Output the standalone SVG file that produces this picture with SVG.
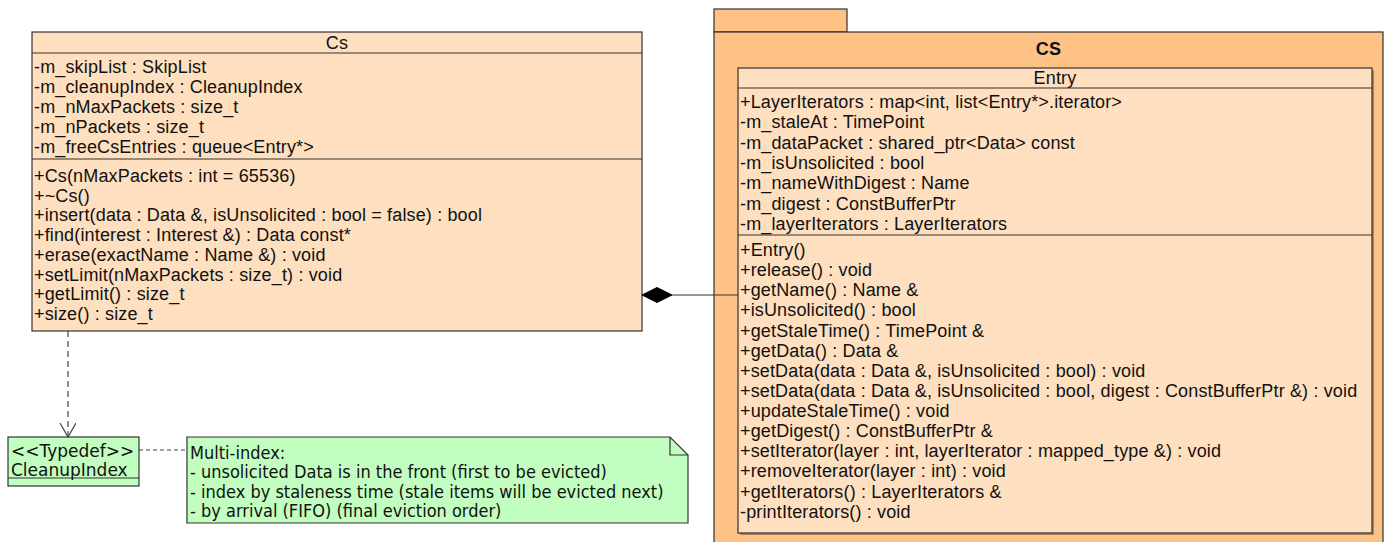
<svg xmlns="http://www.w3.org/2000/svg" width="1385" height="542" viewBox="0 0 1385 542">
<defs>
<style>
.cls{fill:#FEDFBF;stroke:#333;stroke-width:1.2}
.pkg{fill:#FEC286;stroke:#333;stroke-width:1.2}
.grn{fill:#C2FEC0;stroke:#333;stroke-width:1.2}
.sep{stroke:#333;stroke-width:1.2}
.t{font-family:"Liberation Sans",Arial,sans-serif;font-size:18px;letter-spacing:0.15px;fill:#111}
.c{text-anchor:middle}
.b{font-weight:bold}
.d{font-family:"DejaVu Sans",sans-serif;font-size:17px;fill:#111}
.n{font-family:"DejaVu Sans Condensed","DejaVu Sans",sans-serif;font-stretch:condensed;font-size:18px;fill:#111}
.dash{fill:none;stroke:#444;stroke-width:1.2;stroke-dasharray:6 4}
.dash2{fill:none;stroke:#444;stroke-width:1.2;stroke-dasharray:4 3}
</style>
<marker id="open" markerWidth="20" markerHeight="20" refX="14" refY="8" orient="auto" markerUnits="userSpaceOnUse">
<path d="M0,0 L14,8 L0,16" fill="none" stroke="#444" stroke-width="1.2"/>
</marker>
</defs>

<g id="pkg-CS">
<rect class="pkg" x="714" y="9" width="133" height="23"/>
<rect class="pkg" x="714" y="32" width="669" height="515"/>
<text class="t c b" x="1048.5" y="55">CS</text>
</g>

<g id="class-Entry">
<rect x="740" y="70" width="634" height="465" fill="#8a6a4a" opacity="0.7"/>
<rect class="cls" x="738" y="68" width="634" height="465"/>
<line class="sep" x1="738" y1="88" x2="1372" y2="88"/>
<line class="sep" x1="738" y1="235" x2="1372" y2="235"/>
<text class="t c" x="1055" y="84">Entry</text>
<text class="t" x="740" y="108">+LayerIterators : map&lt;int, list&lt;Entry*&gt;.iterator&gt;</text>
<text class="t" x="740" y="128.3">-m_staleAt : TimePoint</text>
<text class="t" x="740" y="148.6">-m_dataPacket : shared_ptr&lt;Data&gt; const</text>
<text class="t" x="740" y="169">-m_isUnsolicited : bool</text>
<text class="t" x="740" y="189.3">-m_nameWithDigest : Name</text>
<text class="t" x="740" y="209.6">-m_digest : ConstBufferPtr</text>
<text class="t" x="740" y="230">-m_layerIterators : LayerIterators</text>
<text class="t" x="740" y="256">+Entry()</text>
<text class="t" x="740" y="276">+release() : void</text>
<text class="t" x="740" y="296">+getName() : Name &amp;</text>
<text class="t" x="740" y="316">+isUnsolicited() : bool</text>
<text class="t" x="740" y="336.5">+getStaleTime() : TimePoint &amp;</text>
<text class="t" x="740" y="356.5">+getData() : Data &amp;</text>
<text class="t" x="740" y="376.5">+setData(data : Data &amp;, isUnsolicited : bool) : void</text>
<text class="t" x="740" y="396.5">+setData(data : Data &amp;, isUnsolicited : bool, digest : ConstBufferPtr &amp;) : void</text>
<text class="t" x="740" y="417">+updateStaleTime() : void</text>
<text class="t" x="740" y="437">+getDigest() : ConstBufferPtr &amp;</text>
<text class="t" x="740" y="457">+setIterator(layer : int, layerIterator : mapped_type &amp;) : void</text>
<text class="t" x="740" y="477">+removeIterator(layer : int) : void</text>
<text class="t" x="740" y="497.5">+getIterators() : LayerIterators &amp;</text>
<text class="t" x="740" y="517.5">-printIterators() : void</text>
</g>

<g id="class-Cs">
<rect class="cls" x="32" y="32" width="610" height="299"/>
<line class="sep" x1="32" y1="53" x2="642" y2="53"/>
<line class="sep" x1="32" y1="159" x2="642" y2="159"/>
<text class="t c" x="337" y="49">Cs</text>
<text class="t" x="34" y="73">-m_skipList : SkipList</text>
<text class="t" x="34" y="93">-m_cleanupIndex : CleanupIndex</text>
<text class="t" x="34" y="113">-m_nMaxPackets : size_t</text>
<text class="t" x="34" y="133">-m_nPackets : size_t</text>
<text class="t" x="34" y="153">-m_freeCsEntries : queue&lt;Entry*&gt;</text>
<text class="t" x="34" y="182">+Cs(nMaxPackets : int = 65536)</text>
<text class="t" x="34" y="201.7">+~Cs()</text>
<text class="t" x="34" y="221.4">+insert(data : Data &amp;, isUnsolicited : bool = false) : bool</text>
<text class="t" x="34" y="241.1">+find(interest : Interest &amp;) : Data const*</text>
<text class="t" x="34" y="260.8">+erase(exactName : Name &amp;) : void</text>
<text class="t" x="34" y="280.5">+setLimit(nMaxPackets : size_t) : void</text>
<text class="t" x="34" y="300.2">+getLimit() : size_t</text>
<text class="t" x="34" y="319.9">+size() : size_t</text>
</g>

<g id="typedef-CleanupIndex">
<rect class="grn" x="8" y="437" width="131" height="49"/>
<line class="sep" x1="8" y1="478" x2="139" y2="478"/>
<text class="d" x="11" y="457">&lt;&lt;Typedef&gt;&gt;</text>
<text class="d" x="11" y="476">CleanupIndex</text>
</g>

<g id="note-multiindex">
<path class="grn" d="M187,437 H670 L688,455 V523 H187 Z"/>
<path d="M670,437 V455 H688" fill="none" stroke="#333" stroke-width="1.2"/>
<text class="n" x="190" y="458.5">Multi-index:</text>
<text class="n" x="190" y="478">- unsolicited Data is in the front (first to be evicted)</text>
<text class="n" x="190" y="497.5">- index by staleness time (stale items will be evicted next)</text>
<text class="n" x="190" y="517">- by arrival (FIFO) (final eviction order)</text>
</g>

<g id="connectors">
<line class="dash" x1="68" y1="331" x2="68" y2="437" marker-end="url(#open)"/>
<line class="dash2" x1="139" y1="450" x2="187" y2="450"/>
<line x1="672" y1="295" x2="738" y2="295" stroke="#333" stroke-width="1.2"/>
<path d="M642,295 L657,287.5 L672,295 L657,302.5 Z" fill="#000" stroke="#000" stroke-width="1"/>
</g>
</svg>
